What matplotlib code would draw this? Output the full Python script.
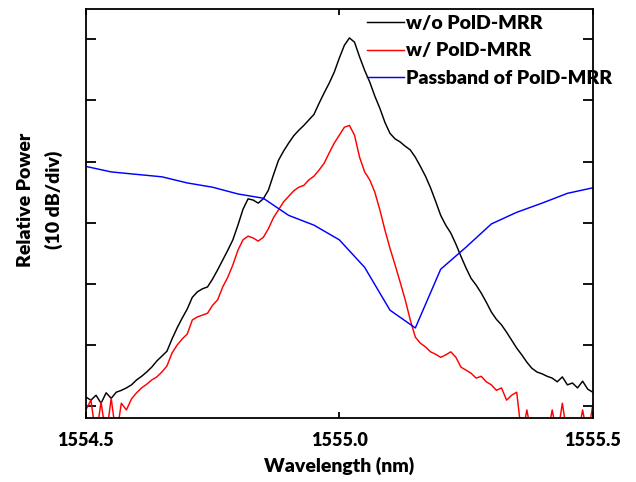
import numpy as np
import matplotlib
matplotlib.use("Agg")
import matplotlib.pyplot as plt

# wavelength grid (nm) for the measured spectra, 0.01 nm spacing
wl = np.round(np.arange(1554.50, 1555.5001, 0.01), 3)

# relative power (dB) without PolD-MRR
p_wo = [-58.5, -59.0, -58.2, -59.5, -57.8, -58.7, -57.7, -57.4, -57.0, -56.5,
        -55.7, -55.1, -54.4, -53.6, -52.6, -51.8, -51.0, -49.0, -47.2, -45.6,
        -44.1, -42.2, -41.3, -40.8, -40.5, -39.2, -37.7, -36.1, -34.5, -32.8,
        -30.4, -27.8, -26.1, -26.3, -26.8, -26.1, -24.7, -22.2, -19.8, -18.3,
        -17.0, -15.8, -14.9, -14.1, -13.2, -12.3, -10.5, -8.8, -7.2, -5.4,
        -3.1, -1.0, 0.2, -0.5, -2.9, -5.1, -7.0, -9.3, -11.3, -13.6,
        -15.4, -16.3, -16.8, -17.5, -18.1, -19.3, -20.8, -22.4, -24.3, -26.5,
        -28.8, -30.4, -31.7, -33.5, -35.5, -37.4, -39.1, -40.2, -41.5, -43.0,
        -44.6, -45.8, -46.7, -47.9, -49.2, -50.5, -51.6, -52.8, -53.8, -54.4,
        -54.7, -55.1, -55.4, -56.0, -55.2, -56.5, -56.2, -57.0, -55.9, -57.2,
        -57.7]

# relative power (dB) with PolD-MRR
p_w = [-60.6, -59.0, -65.0, -59.3, -65.0, -58.7, -65.0, -59.5, -60.6, -58.8,
       -57.8, -57.0, -56.4, -55.7, -55.2, -54.4, -53.4, -51.3, -50.0, -49.0,
       -48.2, -45.9, -45.4, -45.1, -44.8, -43.5, -42.6, -40.5, -38.9, -36.9,
       -34.5, -32.8, -32.2, -32.5, -33.0, -32.4, -31.0, -29.2, -27.9, -26.6,
       -25.7, -24.8, -24.2, -23.9, -23.0, -22.4, -21.4, -20.3, -18.6, -17.0,
       -15.7, -14.4, -14.1, -15.7, -19.3, -21.7, -23.0, -25.0, -27.9, -31.2,
       -34.2, -36.9, -39.7, -42.6, -45.9, -48.7, -49.7, -50.3, -51.1, -51.5,
       -52.0, -51.6, -51.1, -52.0, -53.6, -54.1, -54.6, -55.4, -55.1, -56.0,
       -56.5, -57.4, -57.0, -59.0, -58.2, -57.7, -65.0, -60.6, -65.0, -65.0,
       -65.0, -65.0, -60.6, -65.0, -59.5, -65.0, -65.0, -65.0, -60.6, -65.0,
       -59.8]

# passband of PolD-MRR (dB), 0.05 nm spacing
wl_pb = np.round(np.arange(1554.50, 1555.5001, 0.05), 3)
p_pb = [-20.8, -21.7, -22.1, -22.5, -23.5, -24.2, -25.3, -26.0, -28.8, -30.4,
        -32.8, -37.3, -44.3, -47.2, -37.6, -34.0, -30.2, -28.3, -26.8, -25.2,
        -24.3]

x_ticks = [1554.5, 1555.0, 1555.5]
x_ticklabels = ["1554.5", "1555.0", "1555.5"]
y_ticks = [0, -10, -20, -30, -40, -50, -60]

FONT = "Lato"
W = "heavy"

fig = plt.figure(figsize=(6.36, 4.82), dpi=100)
ax = fig.add_axes([0.135, 0.133, 0.797, 0.848])

ax.plot(wl, p_wo, color="black", lw=1.05, label="w/o PolD-MRR")
ax.plot(wl, p_w, color="red", lw=1.05, label="w/ PolD-MRR")
ax.plot(wl_pb, p_pb, color="blue", lw=1.05, label="Passband of PolD-MRR")

ax.set_xlim(1554.5, 1555.5)
ax.set_ylim(-61.9, 4.9)
ax.set_xticks(x_ticks)
ax.set_xticklabels(x_ticklabels, fontfamily=FONT, fontweight=W, fontsize=13)
ax.set_yticks(y_ticks)
ax.set_yticklabels([])
ax.tick_params(axis="x", direction="in", top=True, bottom=True, length=4, width=1.3, pad=10)
ax.tick_params(axis="y", direction="in", left=True, right=True, length=7, width=1.3)
for s in ax.spines.values():
    s.set_linewidth(1.3)

ax.set_xlabel("Wavelength (nm)", fontfamily=FONT, fontweight=W, fontsize=14, labelpad=6)
fig.text(0.040, 0.585, "Relative Power", rotation=90, ha="center", va="center",
         fontfamily=FONT, fontweight=W, fontsize=14)
fig.text(0.084, 0.585, "(10 dB/div)", rotation=90, ha="center", va="center",
         fontfamily=FONT, fontweight=W, fontsize=14)

leg = ax.legend(loc="upper right", bbox_to_anchor=(1.062, 1.015), frameon=False,
                prop={"family": FONT, "weight": W, "size": 14},
                handlelength=1.9, handletextpad=0.1, labelspacing=0.55, borderaxespad=0.2)

fig.savefig("out.png", dpi=100)
